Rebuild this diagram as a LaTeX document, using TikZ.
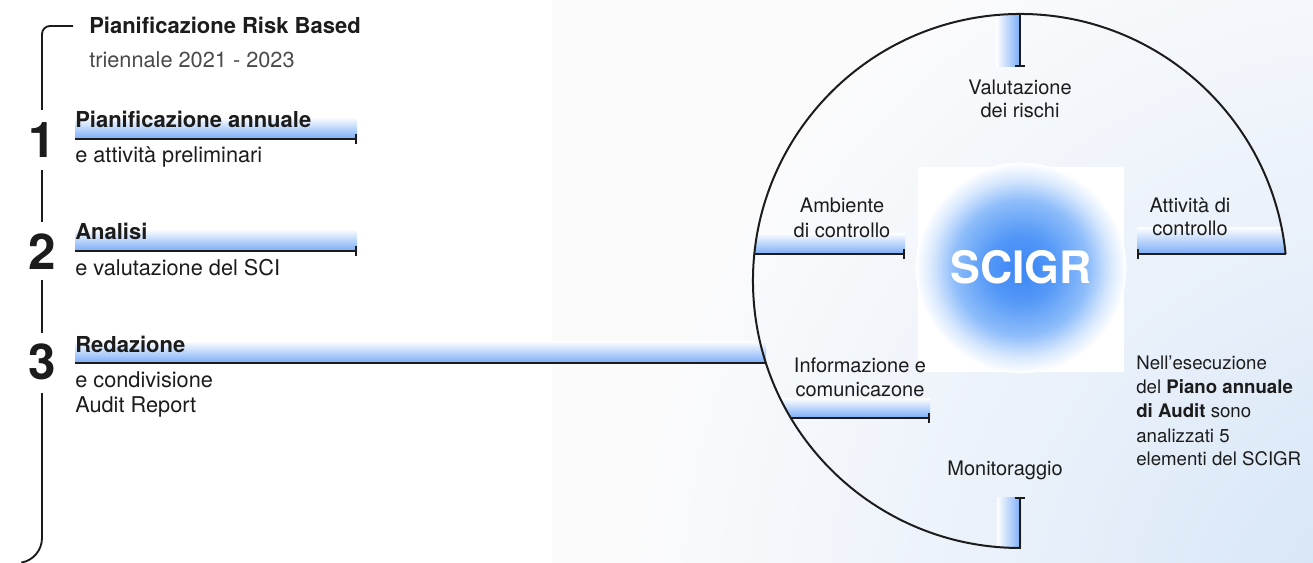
\documentclass[tikz,border=0pt]{standalone}
\usepackage{fontspec}
\setmainfont{TeX Gyre Heros}
\usetikzlibrary{arrows.meta}

\definecolor{ink}{HTML}{1C1C1C}
\definecolor{subink}{HTML}{4A4A4A}
\definecolor{band}{RGB}{122,172,247}
\definecolor{blobcore}{RGB}{58,134,246}
\definecolor{blobinner}{RGB}{84,152,247}
\definecolor{blobmid}{RGB}{142,189,250}
\definecolor{blobouter}{RGB}{214,231,253}
\definecolor{bgedge}{RGB}{210,227,246}
\definecolor{bgmid}{RGB}{232,240,250}
\definecolor{bgfaint}{RGB}{251,251,252}

% soft glow of the backdrop panel
\pgfdeclareradialshading{bgglow}{\pgfpoint{0bp}{0bp}}{%
  color(0bp)=(bgedge); color(12bp)=(bgmid); color(25bp)=(bgfaint); color(50bp)=(bgfaint)}
% blue halo behind the SCIGR title
\pgfdeclareradialshading{scigrglow}{\pgfpoint{0bp}{0bp}}{%
  color(0bp)=(blobcore); color(8bp)=(blobinner); color(16bp)=(blobmid);
  color(21bp)=(blobouter); color(25bp)=(white); color(50bp)=(white)}

\begin{document}
\begin{tikzpicture}[x=0.75pt,y=-0.75pt,
  rule/.style={draw=ink, line width=1.5pt},
  capend/.style={-{Bar[width=7pt,line width=1.3pt]}},
  head/.style={font=\bfseries\fontsize{16.5}{19}\selectfont, text=ink, inner sep=0pt, anchor=base west},
  sub/.style={font=\fontsize{16.3}{19}\selectfont, text=ink, inner sep=0pt, anchor=base west},
  num/.style={font=\bfseries\fontsize{37}{40}\selectfont, text=ink, inner sep=0pt, anchor=base},
  lbl/.style={font=\fontsize{15}{17}\selectfont, text=ink, inner sep=0pt, anchor=base},
  note/.style={font=\fontsize{14}{17}\selectfont, text=ink, inner sep=0pt, anchor=base west},
  hband/.style={top color=white, bottom color=band},
  vband/.style={left color=white, right color=band},
]
\useasboundingbox (0,0) rectangle (1313,563);
\begin{scope}
\clip (0,0) rectangle (1313,563);

% backdrop panel on the right
\begin{scope}
  \clip (552,0) rectangle (1313,563);
  \fill[bgfaint] (552,0) rectangle (1313,563);
  \shade[shading=bgglow] (1400,620) circle [radius=580pt];
\end{scope}

% SCIGR core
\fill[white] (918,167) rectangle (1124,372);
\shade[shading=scigrglow] (1021,268) circle [radius=79pt];
\node[font=\bfseries\fontsize{33.5}{36}\selectfont, text=white, inner sep=0pt, anchor=base] (core) at (1021,283) {SCIGR};

% highlight bands under the phase titles
\shade[hband] (75,117) rectangle (357,139);
\shade[hband] (75,229) rectangle (357,251);
\shade[hband] (75,341) rectangle (766,363);

% highlight bands inside the ring
\begin{scope}
  \clip (1020,281) circle [radius=200.25pt];
  \shade[hband] (750,233) rectangle (905,254);
  \shade[hband] (1137,227) rectangle (1290,254);
  \shade[hband] (780,398) rectangle (930,418);
  \shade[vband] (996,10) rectangle (1020,67);
  \shade[vband] (997,497) rectangle (1021,552);
\end{scope}

% left bracket
\draw[rule, line width=1.4pt, rounded corners=6pt] (73,26) -- (42,26) -- (42,110);
\draw[rule, line width=1.4pt] (42,170) -- (42,222);
\draw[rule, line width=1.4pt] (42,280) -- (42,333);
\draw[rule, line width=1.4pt] (42,393) -- (42,538) arc[start angle=0, end angle=-80, radius=18.75pt];

% phase rules
\coordinate (p1s) at (75,139);  \coordinate (p1e) at (357,139);
\coordinate (p2s) at (75,251);  \coordinate (p2e) at (357,251);
\coordinate (p3s) at (75,363);  \coordinate (p3e) at (766,363);
\draw[rule, capend] (p1s) -- (p1e);
\draw[rule, capend] (p2s) -- (p2e);
\draw[rule] (p3s) -- (p3e);

% ring
\coordinate (ringstart) at (1285.6,254);
\draw[rule] (ringstart) arc[start angle=5.8, end angle=270, radius=200.25pt];

% spokes of the ring
\coordinate (amb0) at (754.4,254); \coordinate (amb1) at (905,254);
\coordinate (att0) at (1285.6,254); \coordinate (att1) at (1137,254);
\coordinate (inf0) at (790.8,418); \coordinate (inf1) at (930,418);
\coordinate (val0) at (1020,14);   \coordinate (val1) at (1020,67);
\coordinate (mon0) at (1020,549);  \coordinate (mon1) at (1020,497);
\draw[rule, capend] (amb0) -- (amb1);
\draw[rule, capend] (att0) -- (att1);
\draw[rule, capend] (inf0) -- (inf1);
\draw[rule, capend] (val0) -- (val1);
\draw[rule, capend] (mon0) -- (mon1);

% left column texts
\node[head] (t0) at (89,34) {Pianificazione Risk Based};
\node[sub, text=subink] (t0b) at (89,68) {triennale 2021 - 2023};
\node[head] (h1) at (75,128) {Pianificazione annuale};
\node[sub] (s1) at (75,162) {e attività preliminari};
\node[head] (h2) at (75,239) {Analisi};
\node[sub] (s2) at (75,275) {e valutazione del SCI};
\node[head] (h3) at (75,352) {Redazione};
\node[sub] (s3a) at (75,387) {e condivisione};
\node[sub] (s3b) at (75,412) {Audit Report};
\node[num] (n1) at (42,157) {1};
\node[num] (n2) at (42,269) {2};
\node[num] (n3) at (42,379) {3};

% ring labels
\node[lbl] (val) at (1020,95) {Valutazione};
\node[lbl] (valb) at (1020,118) {dei rischi};
\node[lbl] (amb) at (842,213) {Ambiente};
\node[lbl] (ambb) at (842,237) {di controllo};
\node[lbl] (att) at (1190,212) {Attività di};
\node[lbl] (attb) at (1190,235) {controllo};
\node[lbl] (inf) at (860,372) {Informazione e};
\node[lbl] (infb) at (860,396) {comunicazone};
\node[lbl] (mon) at (1005,475) {Monitoraggio};

% side note
\node[note] (nt1) at (1136,369) {Nell’esecuzione};
\node[note] (nt2) at (1136,393) {del \textbf{Piano annuale}};
\node[note] (nt3) at (1136,417) {\textbf{di Audit} sono};
\node[note] (nt4) at (1136,442) {analizzati 5};
\node[note] (nt5) at (1136,465) {elementi del SCIGR};
\end{scope}
\end{tikzpicture}
\end{document}
